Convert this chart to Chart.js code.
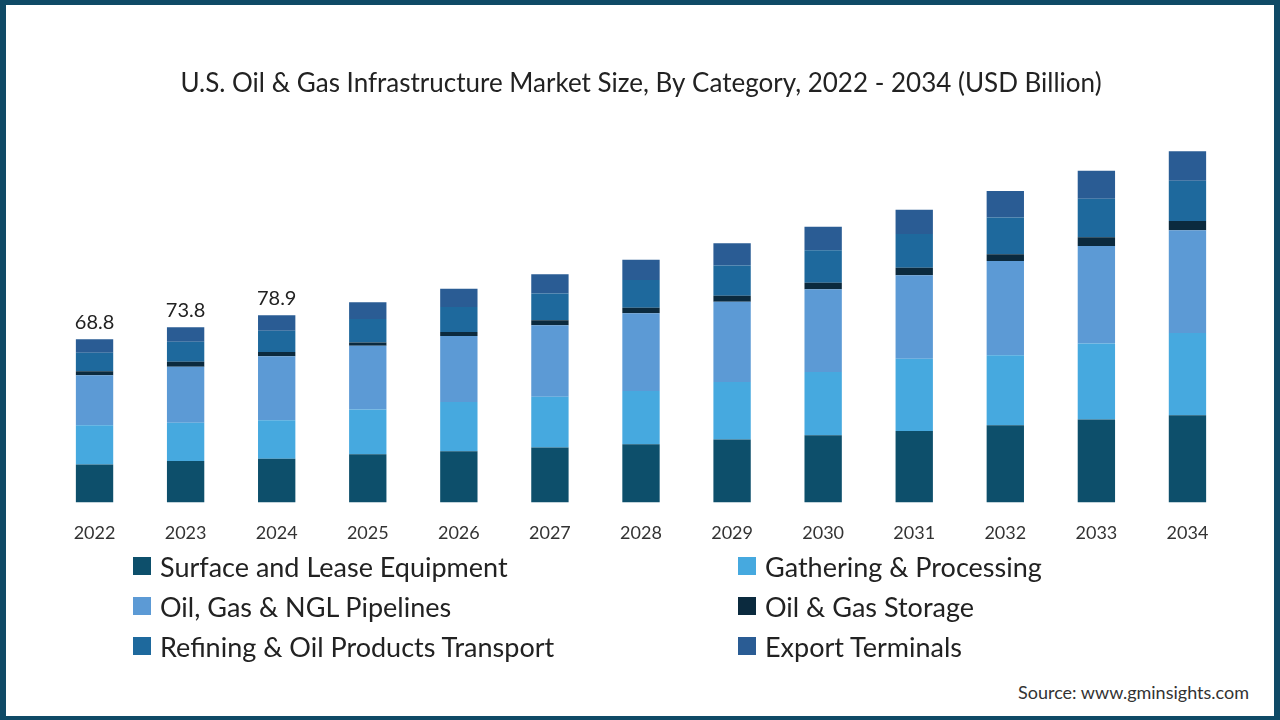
<!DOCTYPE html>
<html>
<head>
<meta charset="utf-8">
<script src="https://cdn.jsdelivr.net/npm/chart.js@4.4.1/dist/chart.umd.min.js"></script>
<style>
  html, body { margin:0; padding:0; background:#fff; }
  body { width:1280px; height:720px; position:relative; overflow:hidden; font-family:Lato, "Open Sans", sans-serif; }
  #frame { position:absolute; left:0; top:0; width:1280px; height:720px; box-sizing:border-box;
           border-style:solid; border-color:#0f4a66; border-width:5px 6px 4px 6px; pointer-events:none; z-index:5; }
  #wrap { position:absolute; left:0; top:0; width:1280px; height:580px; }
  #legend { position:absolute; left:133px; top:546px; width:1000px; display:grid;
            grid-template-columns:605px 400px; row-gap:0; }
  .item { display:flex; align-items:center; height:40px; font-size:27px; color:#222; }
  .sw { width:18px; height:18px; margin-right:9px; flex:none; }
  #source { position:absolute; right:31px; top:681px; font-size:18px; color:#333; }
</style>
</head>
<body>
<div id="wrap"><canvas id="c"></canvas></div>
<div id="legend"></div>
<div id="source">Source: www.gminsights.com</div>
<div id="frame"></div>
<script>
const years = ['2022','2023','2024','2025','2026','2027','2028','2029','2030','2031','2032','2033','2034'];
const seriesNames = ['Surface and Lease Equipment','Gathering & Processing','Oil, Gas & NGL Pipelines','Oil & Gas Storage','Refining & Oil Products Transport','Export Terminals'];
const seriesColors = ['#0d4f6b','#46a9df','#5c9ad5','#0b2a3e','#1e699d','#2a5c94'];
const surfaceLease = [16.0,17.4,18.4,20.3,21.6,23.1,24.5,26.5,28.3,30.1,32.5,34.9,36.7];
const gatheringProcessing = [16.5,16.2,16.2,18.9,20.7,21.4,22.5,24.3,26.7,30.5,29.5,32.1,34.7];
const pipelines = [21.1,23.6,27.0,26.8,27.8,30.2,32.7,33.8,34.8,35.1,39.8,41.1,43.3];
const storage = [1.7,2.1,1.8,1.4,1.7,2.1,2.3,2.5,2.8,3.2,2.8,3.7,3.9];
const refining = [7.8,8.4,9.0,9.9,10.6,11.3,11.8,12.8,13.7,14.2,15.5,16.2,17.0];
const exportTerminals = [5.7,6.1,6.5,7.1,7.7,8.1,8.5,9.3,9.9,10.3,11.2,11.8,12.4];
const totalLabels = ['68.8','73.8','78.9','','','','','','','','','',''];
const seriesData = [surfaceLease, gatheringProcessing, pipelines, storage, refining, exportTerminals];

// HTML legend
const lg = document.getElementById('legend');
seriesNames.forEach((n,i)=>{
  const d = document.createElement('div'); d.className='item';
  const s = document.createElement('span'); s.className='sw'; s.style.background = seriesColors[i];
  const t = document.createElement('span'); t.textContent = n;
  d.appendChild(s); d.appendChild(t); lg.appendChild(d);
});

const totalsPlugin = {
  id:'totals',
  afterDatasetsDraw(chart){
    const ctx = chart.ctx;
    const lastMeta = chart.getDatasetMeta(chart.data.datasets.length-1);
    ctx.save();
    ctx.font = '20px Lato, "Open Sans", sans-serif';
    ctx.fillStyle = '#222';
    ctx.textAlign = 'center';
    ctx.textBaseline = 'bottom';
    lastMeta.data.forEach((bar,i)=>{
      if (totalLabels[i]) ctx.fillText(totalLabels[i], bar.x, bar.y - 7);
    });
    ctx.restore();
  }
};

new Chart(document.getElementById('c'), {
  type:'bar',
  data:{
    labels: years,
    datasets: seriesNames.map((n,i)=>({
      label:n, data:seriesData[i], backgroundColor:seriesColors[i],
      borderWidth:0, barPercentage:0.41, categoryPercentage:1.0
    }))
  },
  options:{
    responsive:true, maintainAspectRatio:false, animation:false,
    layout:{ padding:{ left:49, right:47, top:0, bottom:16 } },
    plugins:{
      legend:{ display:false },
      tooltip:{ enabled:false },
      title:{ display:true, text:'U.S. Oil & Gas Infrastructure Market Size, By Category, 2022 - 2034 (USD Billion)',
        color:'#222', font:{ family:'Lato, "Open Sans", sans-serif', size:26, weight:'normal' },
        padding:{ top:68, bottom:26 } }
    },
    scales:{
      x:{ stacked:true, grid:{ display:false, drawTicks:false }, border:{ display:false },
          ticks:{ color:'#333', padding:20, font:{ family:'Lato, "Open Sans", sans-serif', size:18 } } },
      y:{ stacked:true, display:false, min:0, max:159 }
    }
  },
  plugins:[totalsPlugin]
});
</script>
</body>
</html>
